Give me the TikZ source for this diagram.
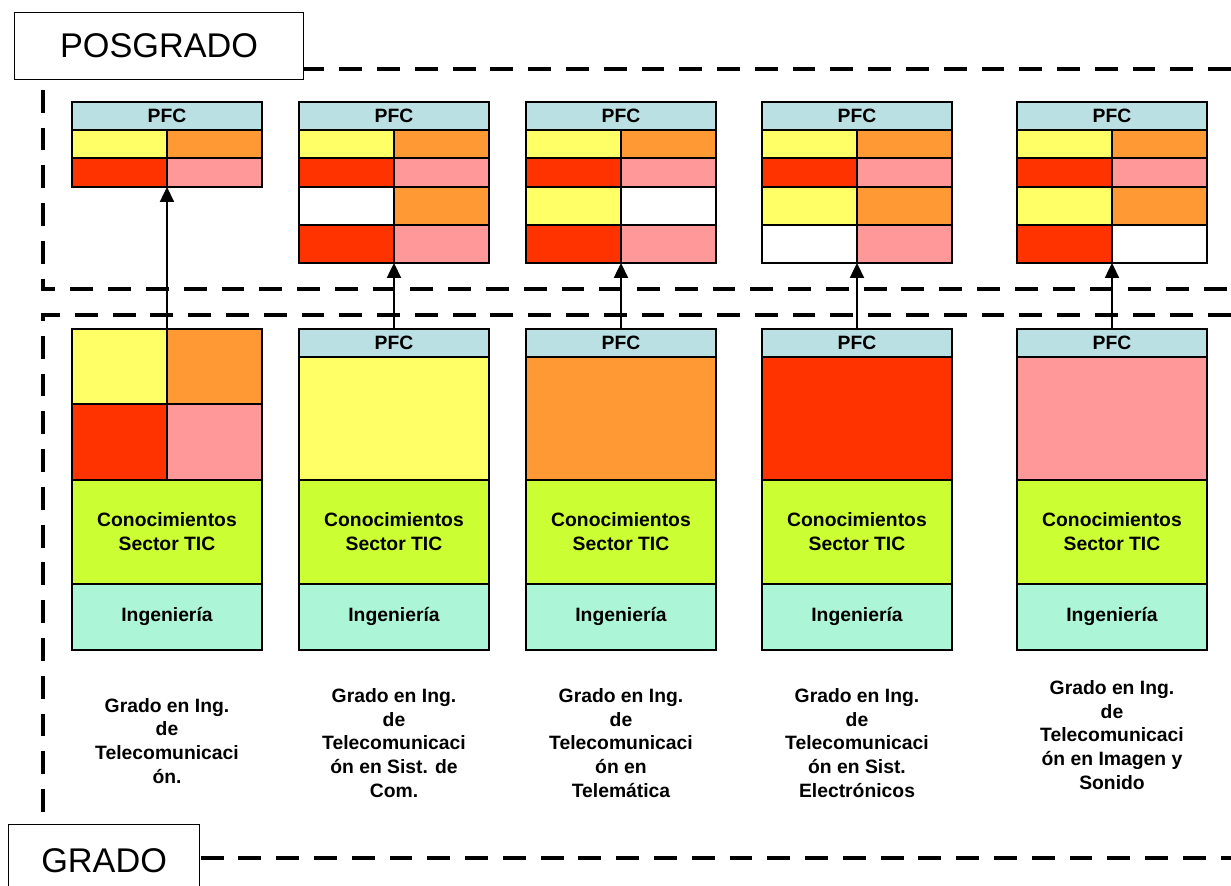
\documentclass[tikz,border=0pt]{standalone}
\usepackage{fontspec}
\setmainfont{Liberation Sans}
\usetikzlibrary{positioning,arrows.meta}
\definecolor{cyel}{RGB}{255,255,102}
\definecolor{corg}{RGB}{255,153,51}
\definecolor{cred}{RGB}{255,51,0}
\definecolor{cpink}{RGB}{255,153,153}
\definecolor{cpfc}{RGB}{187,224,227}
\definecolor{cgreen}{RGB}{204,255,51}
\definecolor{cteal}{RGB}{173,245,215}
\tikzset{
    cell/.style={draw,line width=1pt,inner sep=0pt,outer sep=0pt,anchor=north west,minimum width=1.9cm},
    wide/.style={cell,minimum width=3.8cm,align=center,font=\bfseries\fontsize{11}{13.6}\selectfont},
    pfc/.style={wide,fill=cpfc,minimum height=0.56cm},
    zone/.style={dashed,line width=2.4pt,dash pattern=on 13pt off 8.5pt},
    titlebox/.style={draw,fill=white,line width=0.7pt,anchor=north west,inner sep=0pt,font=\fontsize{19.5}{22}\selectfont},
    gradtext/.style={align=center,font=\bfseries\fontsize{11}{13.6}\selectfont},
    arr/.style={line width=1pt,-{Triangle[length=8.5pt,width=8pt]}}
}
\begin{document}
\begin{tikzpicture}[x=0.02cm,y=-0.02cm]
    \useasboundingbox (0,0) rectangle (1231,886);
    \draw[zone] (1231,69) -- (43,69) -- (43,289) -- (1231,289);
    \draw[zone] (1231,315) -- (43,315) -- (43,858) -- (1231,858);
    \node[titlebox,minimum width=5.78cm,minimum height=1.34cm] (posgrado) at (14,12) {POSGRADO};
    \node[titlebox,minimum width=3.82cm,minimum height=1.44cm] (grado) at (8,824) {GRADO};
    \node[pfc] (t1) at (72,102) {PFC};
    \node[cell,fill=cyel,minimum height=0.56cm] (t1a) at (t1.south west) {};
    \node[cell,fill=corg,minimum height=0.56cm] (t1b) at (t1a.north east) {};
    \node[cell,fill=cred,minimum height=0.58cm] (t1c) at (t1a.south west) {};
    \node[cell,fill=cpink,minimum height=0.58cm] (t1d) at (t1c.north east) {};
    \foreach \n/\x/\ea/\eb/\fa/\fb in {2/299/white/corg/cred/cpink,3/526/cyel/white/cred/cpink,4/762/cyel/corg/white/cpink,5/1017/cyel/corg/cred/white}{
        \node[pfc] (t\n) at (\x,102) {PFC};
        \node[cell,fill=cyel,minimum height=0.56cm] (t\n a) at (t\n.south west) {};
        \node[cell,fill=corg,minimum height=0.56cm] (t\n b) at (t\n a.north east) {};
        \node[cell,fill=cred,minimum height=0.58cm] (t\n c) at (t\n a.south west) {};
        \node[cell,fill=cpink,minimum height=0.58cm] (t\n d) at (t\n c.north east) {};
        \node[cell,fill=\ea,minimum height=0.76cm] (t\n e) at (t\n c.south west) {};
        \node[cell,fill=\eb,minimum height=0.76cm] (t\n f) at (t\n e.north east) {};
        \node[cell,fill=\fa,minimum height=0.76cm] (t\n g) at (t\n e.south west) {};
        \node[cell,fill=\fb,minimum height=0.76cm] (t\n h) at (t\n g.north east) {};
    }
    \node[cell,fill=cyel,minimum height=1.5cm] (q1a) at (72,329) {};
    \node[cell,fill=corg,minimum height=1.5cm] (q1b) at (q1a.north east) {};
    \node[cell,fill=cred,minimum height=1.52cm] (q1c) at (q1a.south west) {};
    \node[cell,fill=cpink,minimum height=1.52cm] (q1d) at (q1c.north east) {};
    \node[wide,fill=cgreen,minimum height=2.08cm] (g1) at (q1c.south west) {Conocimientos\\Sector TIC};
    \node[wide,fill=cteal,minimum height=1.32cm] (i1) at (g1.south west) {\raisebox{-3pt}{Ingeniería}};
    \draw[arr] (q1a.north east) -- (t1c.south east);
    \foreach \n/\x/\c in {2/299/cyel,3/526/corg,4/762/cred,5/1017/cpink}{
        \node[pfc] (p\n) at (\x,329) {PFC};
        \node[wide,fill=\c,minimum height=2.46cm] (b\n) at (p\n.south west) {};
        \node[wide,fill=cgreen,minimum height=2.08cm] (g\n) at (b\n.south west) {Conocimientos\\Sector TIC};
        \node[wide,fill=cteal,minimum height=1.32cm] (i\n) at (g\n.south west) {\raisebox{-3pt}{Ingeniería}};
        \draw[arr] (p\n.north) -- (t\n g.south east);
    }
    \node[gradtext] (l1) at (167,741) {Grado en Ing.\\de\\Telecomunicaci\\ón.};
    \node[gradtext] (l2) at (394,743) {Grado en Ing.\\de\\Telecomunicaci\\ón en Sist. de\\Com.};
    \node[gradtext] (l3) at (621,743) {Grado en Ing.\\de\\Telecomunicaci\\ón en\\Telemática};
    \node[gradtext] (l4) at (857,743) {Grado en Ing.\\de\\Telecomunicaci\\ón en Sist.\\Electrónicos};
    \node[gradtext] (l5) at (1112,735) {Grado en Ing.\\de\\Telecomunicaci\\ón en Imagen y\\Sonido};
\end{tikzpicture}
\end{document}
